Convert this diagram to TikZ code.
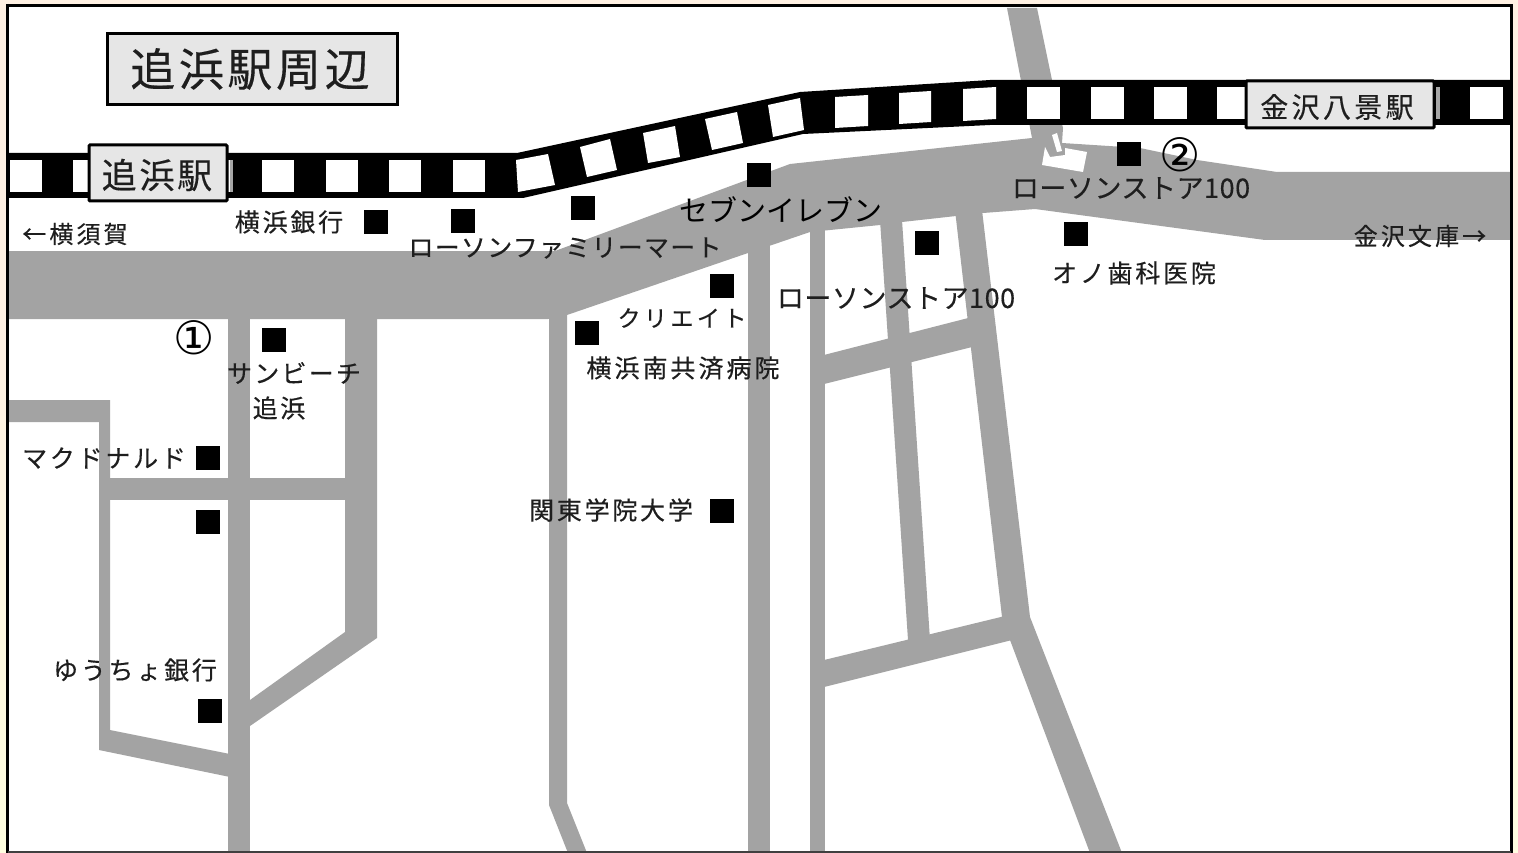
\documentclass[tikz,border=0pt]{standalone}
\usepackage{fontspec}
\setmainfont{Noto Sans CJK JP}
\newfontfamily\symfont{DejaVu Sans}
\newcommand\fsz[2]{\fontsize{#1}{#1}\selectfont\addfontfeature{LetterSpace=#2,FakeBold=0.35}}
\newcommand\fszthin[2]{\fontsize{#1}{#1}\selectfont\addfontfeature{LetterSpace=#2}}
\definecolor{roadgray}{HTML}{A3A3A3}
\definecolor{boxgray}{HTML}{E6E6E6}
\definecolor{ink}{HTML}{1E1E1E}
\definecolor{margin}{HTML}{FFF1E3}
\tikzset{
  road/.style={fill=roadgray,draw=none},
  railblack/.style={fill=black,draw=none},
  railwin/.style={fill=white,draw=none},
  sq/.style={fill=black,draw=none,minimum width=24pt,minimum height=23.5pt,inner sep=0pt},
  lab/.style={inner sep=0pt,text=ink},
  stationbox/.style={fill=boxgray,draw=black,line width=3pt,rounded corners=1pt,inner sep=0pt,anchor=north west},
}
\begin{document}
\begin{tikzpicture}[x=1pt,y=-1pt]
\useasboundingbox (0,0) rectangle (1518,853);
% page margin and sheet
\fill[margin] (0,0) rectangle (1518,853);
\shade[top color=margin,bottom color=yellow!12] (0,320) rectangle (7,853);
\fill[yellow!12] (1512,300) rectangle (1518,853);
\fill[white] (8,7) rectangle (1511,853);
% roads
\path[road] (8,251) -- (555,251) -- (790,164) -- (1032,138) -- (1007,8) -- (1037,8) -- (1052,80) -- (1063,128) -- (1062,143) -- (1140,148) -- (1197,160) -- (1277,172) -- (1511,172) -- (1511,240) -- (1265,240) -- (1035,209) -- (983,213) -- (956,216) -- (902,222) -- (880,225) -- (810,232) -- (769,246) -- (748,253) -- (567,315) -- (548,319) -- (8,319) -- cycle;
\path[road] (228,300) rectangle (250,853);
\path[road] (345,300) -- (377,300) -- (377,638) -- (250,726) -- (250,700) -- (345,632) -- cycle;
\path[road] (99,478) rectangle (345,500);
\path[road] (8,400) -- (110,400) -- (110,730) -- (230,754) -- (230,777) -- (99,750) -- (99,422) -- (8,422) -- cycle;
\path[road] (549,300) -- (567,300) -- (567,803) -- (587,853) -- (568,853) -- (549,805) -- cycle;
\path[road] (748,240) rectangle (770,853);
\path[road] (810,220) rectangle (825,853);
\path[road] (820,356) -- (980,315) -- (980,345) -- (820,385) -- cycle;
\path[road] (820,661) -- (1005,616) -- (1012,640) -- (820,688) -- cycle;
\path[road] (880,220) -- (902,220) -- (930,640) -- (908,640) -- cycle;
\path[road] (955,210) -- (982,210) -- (1030,617) -- (1122,853) -- (1090,853) -- (1010,640) -- (1002,617) -- cycle;
% white marker by the crossing
\fill[white] (1042,165) -- (1045,147) -- (1050,157) -- (1065,155) -- (1065,148) -- (1087,152) -- (1083,172) -- cycle;
\fill[white] (1052,135) -- (1057,133) -- (1062,151) -- (1057,152) -- cycle;
% railway
\path[railblack] (8,153) -- (517,153) -- (800,92) -- (990,80) -- (1511,80) -- (1511,125) -- (990,125) -- (803,134) -- (523,198) -- (8,198) -- cycle;
\foreach \xa in {10,73,134,198,262,326,389,453}{
  \path[railwin] (\xa,160) rectangle (\xa+32,192);
}
\path[railwin] (516,160) -- (548,154) -- (555,185) -- (518,192) -- cycle;
\path[railwin] (580,147) -- (610,139) -- (617,170) -- (587,177) -- cycle;
\path[railwin] (643,133) -- (675,126) -- (680,157) -- (648,163) -- cycle;
\path[railwin] (705,119) -- (737,112) -- (743,143) -- (712,150) -- cycle;
\path[railwin] (768,105) -- (800,98) -- (804,130) -- (773,137) -- cycle;
\path[railwin] (835,97) -- (868,95) -- (868,126) -- (835,128) -- cycle;
\path[railwin] (899,93) -- (931,91) -- (931,122) -- (899,124) -- cycle;
\path[railwin] (963,89) -- (996,87) -- (996,119) -- (963,121) -- cycle;
\foreach \xa in {1027,1091,1154,1217,1470}{
  \path[railwin] (\xa,87) rectangle (\xa+33,119);
}
\fill[gray!70] (230,160) rectangle (233,192);
\fill[gray!70] (1436,87) rectangle (1440,119);
% title and stations
\node[stationbox,minimum width=290pt,minimum height=71pt,line width=3pt,rounded corners=0pt] (titlebox) at (105.5,32.5) {};
\node[stationbox,minimum width=138pt,minimum height=56pt] (oppamabox) at (87.5,143.5) {};
\node[stationbox,minimum width=188pt,minimum height=47pt] (kanazawabox) at (1244.5,79.5) {};
\node[lab,font=\fsz{45}{8}] (title) at (250,69) {追浜駅周辺};
\node[lab,font=\fsz{35}{8}] (oppama) at (157,175) {追浜駅};
\node[lab,font=\fsz{28}{12}] (kanazawa) at (1337,107) {金沢八景駅};
% landmark squares
\node[sq] (s1) at (1129,154) {};
\node[sq] (s2) at (376,222) {};
\node[sq] (s3) at (463,221) {};
\node[sq] (s4) at (583,208) {};
\node[sq] (s5) at (759,175) {};
\node[sq] (s6) at (722,286) {};
\node[sq] (s7) at (587,333) {};
\node[sq] (s8) at (722,511) {};
\node[sq] (s9) at (927,243) {};
\node[sq] (s10) at (1076,234) {};
\node[sq] (s11) at (274,340) {};
\node[sq] (s12) at (208,458) {};
\node[sq] (s13) at (208,522) {};
\node[sq] (s14) at (210,711) {};
% labels
\node[lab,font=\fsz{24}{13}] (yokosuka) at (75,234) {←横須賀};
\node[lab,font=\fsz{25}{11}] (ybank) at (289,222) {横浜銀行};
\node[lab,font=\fsz{25}{5}] (lawsonfm) at (565,248) {ローソンファミリーマート};
\node[lab,font=\fszthin{29}{0},text=black] (seven) at (781,210) {セブンイレブン};
\node[lab,font=\fsz{27}{2}] (l100a) at (1131,188) {ローソンストア100};
\node[lab,font=\fsz{24}{13}] (bunko) at (1420,236) {金沢文庫→};
\node[lab,font=\fsz{25}{11}] (ono) at (1134,273) {オノ歯科医院};
\node[lab,font=\fsz{27}{2}] (l100b) at (896,298) {ローソンストア100};
\node[lab,font=\fsz{23}{15}] (create) at (682,318) {クリエイト};
\node[lab,font=\fsz{25}{12}] (hospital) at (683,368) {横浜南共済病院};
\node[lab,font=\fsz{25}{9}] (sunbeach) at (294,373) {サンビーチ};
\node[lab,font=\fsz{25}{10}] (oppama2) at (279,408) {追浜};
\node[lab,font=\fsz{25}{11}] (mcd) at (104,458) {マクドナルド};
\node[lab,font=\fsz{25}{11}] (kanto) at (611,510) {関東学院大学};
\node[lab,font=\fsz{25}{11}] (yucho) at (135,670) {ゆうちょ銀行};
\node[lab,font={\symfont\fontsize{46}{46}\selectfont},text=black] (c1) at (194,338) {①};
\node[lab,font={\symfont\fontsize{46}{46}\selectfont},text=black] (c2) at (1180,155) {②};
% frame
\draw[black,line width=3pt] (7.5,5.5) -- (1511.5,5.5) -- (1511.5,853);
\draw[black,line width=3pt] (7.5,4) -- (7.5,853);
\draw[black!75,line width=2pt] (8,852) -- (1511,852);
\end{tikzpicture}
\end{document}
